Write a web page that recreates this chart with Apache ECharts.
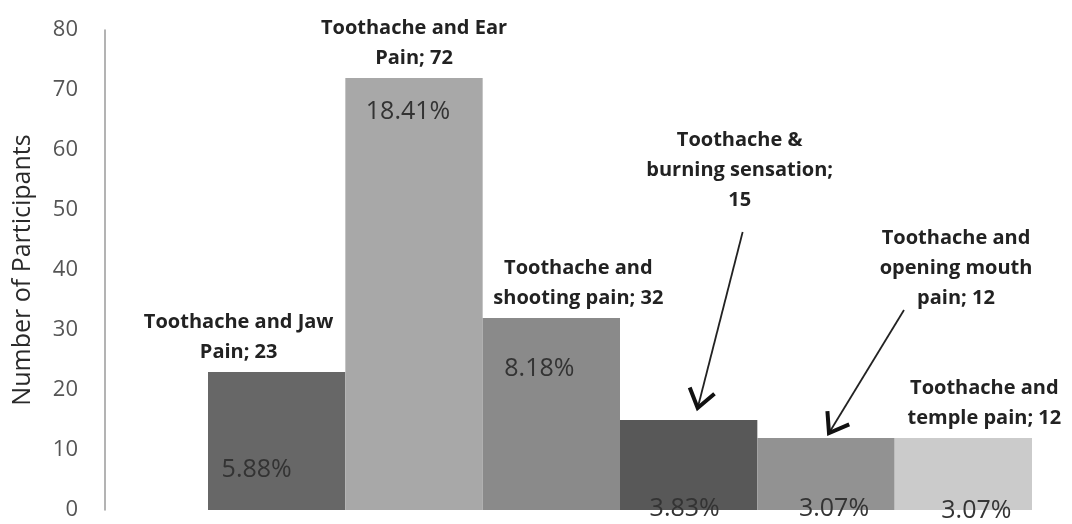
<!DOCTYPE html>
<html>
<head>
<meta charset="utf-8">
<script src="https://cdn.jsdelivr.net/npm/echarts@6/dist/echarts.min.js"></script>
<style>html,body{margin:0;padding:0;background:#fff;}#c{width:1072px;height:524px;}</style>
</head>
<body>
<div id="c"></div>
<script>
// ---- data ----
const categories = [
  'Toothache and Jaw\nPain',
  'Toothache and Ear\nPain',
  'Toothache and\nshooting pain',
  'Toothache &\nburning sensation;\n',
  'Toothache and\nopening mouth\npain',
  'Toothache and\ntemple pain'
];
const values = [23, 72, 32, 15, 12, 12];
const percents = ['5.88%', '18.41%', '8.18%', '3.83%', '3.07%', '3.07%'];
const yTicks = { min: 0, max: 80, interval: 10 };

// ---- styles / layout ----
const colors = ['#676767', '#a8a8a8', '#8a8a8a', '#585858', '#929292', '#cbcbcb'];
const nameOffsets = [[-38, 0], [0, 0], [27, 0], [51, -200], [130, -120], [21, 0]];
const pctOffsets = [[-20, -23], [-6, -381], [-12, -124], [-4, 16], [8, 16], [13, 18]];
// arrows: [start dx, start dy, tip dx, tip dy] relative to top-centre of bar
const arrows = { 3: [54, -188, 9, -12], 4: [78, -128, 3, -5] };

const FONT = 'Open Sans';

const chart = echarts.init(document.getElementById('c'));

const mainData = values.map((v, i) => ({
  value: v,
  itemStyle: { color: colors[i] },
  label: {
    show: true,
    position: 'top',
    distance: 5,
    offset: nameOffsets[i],
    formatter: categories[i].endsWith('\n') ? categories[i] + v : categories[i] + '; ' + v
  }
}));

const pctData = values.map((v, i) => ({
  value: v,
  label: {
    show: true,
    position: 'insideBottom',
    distance: 5,
    offset: pctOffsets[i],
    formatter: percents[i]
  }
}));

const option = {
  backgroundColor: '#fff',
  animation: false,
  grid: { left: 208, right: 40, top: 30, bottom: 14 },
  xAxis: {
    type: 'category',
    data: categories,
    axisLine: { show: false },
    axisTick: { show: false },
    axisLabel: { show: false },
    splitLine: { show: false }
  },
  yAxis: {
    type: 'value',
    min: yTicks.min, max: yTicks.max, interval: yTicks.interval,
    offset: 103,
    axisLine: { show: true, lineStyle: { color: '#9a9a9a', width: 1.5 } },
    axisTick: { show: false },
    splitLine: { show: false },
    axisLabel: { color: '#555', fontSize: 22, fontFamily: FONT, margin: 27, padding: [8, 0, 0, 0] },
    name: 'Number of Participants',
    nameLocation: 'middle',
    nameGap: 70,
    nameTextStyle: { color: '#2a2a2a', fontSize: 25, fontFamily: FONT, fontWeight: 500 }
  },
  series: [
    {
      type: 'bar',
      data: mainData,
      barCategoryGap: 0,
      barGap: '-100%',
      label: {
        fontFamily: FONT, fontSize: 20, fontWeight: 'bold', color: '#222',
        lineHeight: 30, align: 'center'
      },
      z: 2
    },
    {
      type: 'bar',
      data: pctData,
      barCategoryGap: 0,
      barGap: '-100%',
      itemStyle: { color: 'rgba(0,0,0,0)' },
      label: { fontFamily: FONT, fontSize: 25, color: '#333' },
      silent: true,
      z: 3
    }
  ]
};
chart.setOption(option);

// arrows computed from the bar positions
const graphics = [];
Object.keys(arrows).forEach(k => {
  const i = +k;
  const p = chart.convertToPixel({ seriesIndex: 0 }, [i, values[i]]);
  const a = arrows[k];
  const sx = p[0] + a[0], sy = p[1] + a[1], tx = p[0] + a[2], ty = p[1] + a[3];
  const ang = Math.atan2(ty - sy, tx - sx);
  const L = 22, spread = 0.62;
  const l1 = [tx - L * Math.cos(ang - spread), ty - L * Math.sin(ang - spread)];
  const l2 = [tx - L * Math.cos(ang + spread), ty - L * Math.sin(ang + spread)];
  graphics.push({
    type: 'line', shape: { x1: sx, y1: sy, x2: tx, y2: ty },
    style: { stroke: '#222', lineWidth: 1.8 }, z: 10
  });
  graphics.push({
    type: 'polyline', shape: { points: [l1, [tx, ty], l2] },
    style: { stroke: '#111', lineWidth: 4, fill: null }, z: 10
  });
});
chart.setOption({ graphic: graphics });
</script>
</body>
</html>
